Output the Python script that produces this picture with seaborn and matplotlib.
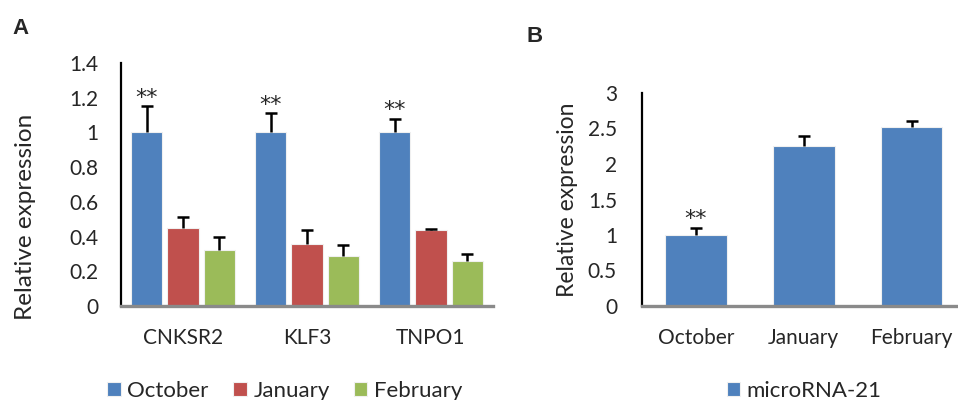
import pandas as pd
import seaborn as sns
import matplotlib.pyplot as plt

# Panel A data
genes = ['CNKSR2', 'KLF3', 'TNPO1']
months = ['October', 'January', 'February']
october = [1.0, 1.0, 1.0]
january = [0.45, 0.36, 0.435]
february = [0.32, 0.29, 0.26]
october_err = [0.15, 0.11, 0.08]
january_err = [0.065, 0.075, 0.01]
february_err = [0.08, 0.06, 0.04]

# Panel B data
mirna = [1.0, 2.25, 2.52]
mirna_err = [0.10, 0.14, 0.09]

colors = ['#4F81BD', '#C0504D', '#9BBB59']

sns.set_style('white')
plt.rcParams['font.family'] = ['Lato', 'DejaVu Sans']
fs = 15

df = pd.DataFrame({
    'gene': genes * 3,
    'month': [m for m in months for _ in genes],
    'value': october + january + february,
})
errs = [october_err, january_err, february_err]

W, H = 958, 400
fig = plt.figure(figsize=(W / 100, H / 100), dpi=100)

def style_axis(ax):
    sns.despine(ax=ax)
    ax.spines['left'].set_color('black')
    ax.spines['left'].set_linewidth(1.6)
    ax.spines['bottom'].set_color('#8a8a8a')
    ax.spines['bottom'].set_linewidth(2.4)
    ax.tick_params(length=0, labelsize=fs)
    ax.set_xlabel('')
    ax.set_ylabel('')

def upper_err(ax, cont, err):
    # plus-only error bars, like the Excel original
    xs = [p.get_x() + p.get_width() / 2 for p in cont.patches]
    hs = [p.get_height() for p in cont.patches]
    eb = ax.errorbar(xs, hs, yerr=[[0] * len(err), err], fmt='none',
                     ecolor='black', elinewidth=1.8, capsize=4, capthick=1.8)
    eb[1][0].set_visible(False)
    return xs, hs

# ---- Panel A
axA = fig.add_axes([121 / W, 1 - 306 / H, (493 - 121) / W, (306 - 63) / H])
sns.barplot(data=df, x='gene', y='value', hue='month', hue_order=months,
            palette=colors, saturation=1, width=0.883, gap=0.15, errorbar=None,
            edgecolor='#f0f0f0', linewidth=0.8, ax=axA)
for cont, err in zip(axA.containers, errs):
    upper_err(axA, cont, err)
# stars over October bars
for p, e in zip(axA.containers[0].patches, october_err):
    axA.annotate('**', (p.get_x() + p.get_width() / 2, p.get_height() + e),
                 xytext=(0, -1), textcoords='offset points',
                 ha='center', va='bottom', fontsize=16, family='DejaVu Sans')
axA.set_ylim(0, 1.4)
axA.set_xlim(-0.5, 2.5)
axA.set_yticks([0, 0.2, 0.4, 0.6, 0.8, 1, 1.2, 1.4])
axA.set_yticklabels(['0', '0.2', '0.4', '0.6', '0.8', '1', '1.2', '1.4'])
style_axis(axA)
axA.tick_params(axis='y', pad=16)
axA.tick_params(axis='x', pad=16)
handles, labels = axA.get_legend_handles_labels()
axA.legend(handles, labels, loc='center', ncol=3, frameon=False, fontsize=16,
           bbox_to_anchor=(285 / W, 1 - 391 / H), bbox_transform=fig.transFigure,
           handlelength=0.6, handleheight=0.6, handletextpad=0.3,
           columnspacing=1.1)

# ---- Panel B
axB = fig.add_axes([642 / W, 1 - 306 / H, (W - 642) / W, (306 - 93) / H])
sns.barplot(x=months, y=mirna, color=colors[0], saturation=1, width=0.57,
            errorbar=None, edgecolor='#f0f0f0', linewidth=0.8, ax=axB)
cont = axB.containers[0]
xs, hs = upper_err(axB, cont, mirna_err)
axB.annotate('**', (xs[0], hs[0] + mirna_err[0]), xytext=(0, -1),
             textcoords='offset points', ha='center', va='bottom',
             fontsize=16, family='DejaVu Sans')
axB.set_ylim(0, 3)
axB.set_xlim(-0.5, 2.43)
axB.set_yticks([0, 0.5, 1, 1.5, 2, 2.5, 3])
axB.set_yticklabels(['0', '0.5', '1', '1.5', '2', '2.5', '3'])
style_axis(axB)
axB.tick_params(axis='y', pad=18)
axB.tick_params(axis='x', pad=16)
axB.legend([cont.patches[0]], ['microRNA-21'], loc='center', frameon=False,
           fontsize=16, bbox_to_anchor=(804 / W, 1 - 391 / H),
           bbox_transform=fig.transFigure, handlelength=0.6,
           handleheight=0.6, handletextpad=0.3)

# axis titles and panel letters
fig.text(26 / W, 1 - 217 / H, 'Relative expression', rotation=90,
         ha='center', va='center', fontsize=17.5)
fig.text(568 / W, 1 - 200 / H, 'Relative expression', rotation=90,
         ha='center', va='center', fontsize=16.5)
fig.text(12 / W, 1 - 34 / H, 'A', fontsize=16, fontweight='bold',
         family='Liberation Sans')
fig.text(527 / W, 1 - 42 / H, 'B', fontsize=16, fontweight='bold',
         family='Liberation Sans')

fig.savefig('out.png', dpi=100)
